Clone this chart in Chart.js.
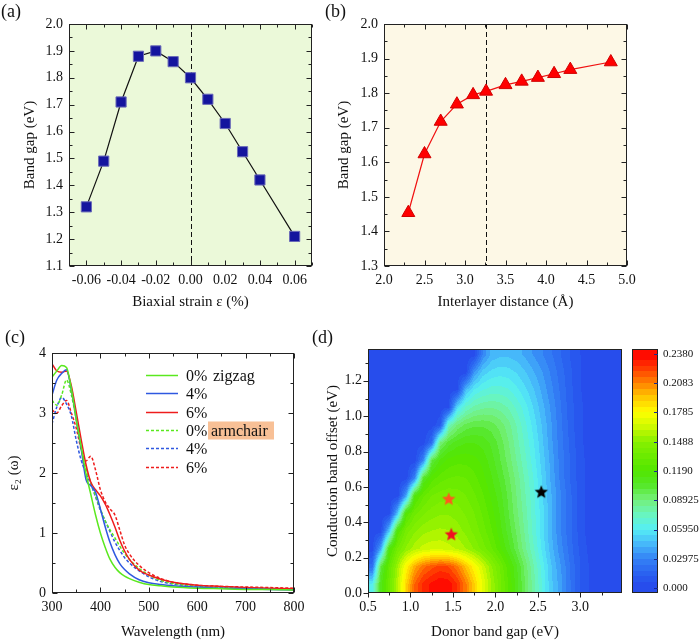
<!DOCTYPE html>
<html>
<head>
<meta charset="utf-8">
<script src="https://cdn.jsdelivr.net/npm/chart.js@4.4.0/dist/chart.umd.min.js"></script>
<style>
  body { margin: 0; background: #fff; }
  #lienzo { position: relative; width: 700px; height: 641px; overflow: hidden; }
  canvas { position: absolute; }
  .etiqueta { position: absolute; font-family: "Liberation Serif", serif; font-size: 18px; color: #111; }
</style>
</head>
<body>
<div id="lienzo">
  <canvas id="plotA" width="330" height="320" style="left:0;top:0"></canvas>
  <canvas id="plotB" width="380" height="320" style="left:320px;top:0"></canvas>
  <canvas id="plotC" width="330" height="321" style="left:0;top:320px"></canvas>
  <canvas id="plotD" width="310" height="321" style="left:320px;top:320px"></canvas>
  <canvas id="plotBarra" width="75" height="321" style="left:625px;top:320px"></canvas>
  <div class="etiqueta" style="left:1px;top:1px">(a)</div>
  <div class="etiqueta" style="left:325px;top:1px">(b)</div>
  <div class="etiqueta" style="left:5px;top:327px">(c)</div>
  <div class="etiqueta" style="left:312px;top:327px">(d)</div>
</div>
<script>
// (a) band gap vs biaxial strain
const strainA = [-0.06, -0.05, -0.04, -0.03, -0.02, -0.01, 0.00, 0.01, 0.02, 0.03, 0.04, 0.06];
const gapA = [1.32, 1.49, 1.71, 1.88, 1.90, 1.86, 1.80, 1.72, 1.63, 1.525, 1.42, 1.21];
const corteA = 0.0;
const ticksXA = [-0.06, -0.04, -0.02, 0.00, 0.02, 0.04, 0.06];
const ticksYA = [1.1, 1.2, 1.3, 1.4, 1.5, 1.6, 1.7, 1.8, 1.9, 2.0];

// (b) band gap vs interlayer distance
const distanciaB = [2.3, 2.5, 2.7, 2.9, 3.1, 3.26, 3.5, 3.7, 3.9, 4.1, 4.3, 4.8];
const gapB = [1.454, 1.624, 1.718, 1.768, 1.795, 1.805, 1.824, 1.834, 1.845, 1.856, 1.868, 1.89];
const corteB = 3.26;
const ticksXB = [2.0, 2.5, 3.0, 3.5, 4.0, 4.5, 5.0];
const ticksYB = [1.3, 1.4, 1.5, 1.6, 1.7, 1.8, 1.9, 2.0];

// (c) espectros eps2
const longitudOnda = [300, 310, 320, 330, 340, 350, 360, 370, 380, 390, 400, 410, 420, 430, 440, 450, 460, 480, 500, 525, 550, 600, 650, 700, 750, 800];
const zigzag0 = [3.60, 3.70, 3.79, 3.76, 3.40, 2.90, 2.45, 2.00, 1.65, 1.30, 1.00, 0.76, 0.56, 0.43, 0.34, 0.28, 0.24, 0.18, 0.14, 0.12, 0.10, 0.08, 0.07, 0.06, 0.06, 0.05];
const zigzag4 = [3.30, 3.55, 3.66, 3.72, 3.38, 2.90, 2.42, 1.90, 1.79, 1.68, 1.40, 1.10, 0.84, 0.64, 0.49, 0.39, 0.32, 0.22, 0.17, 0.14, 0.12, 0.10, 0.08, 0.07, 0.06, 0.05];
const zigzag6 = [3.82, 3.70, 3.68, 3.70, 3.45, 3.02, 2.57, 2.15, 1.85, 1.72, 1.62, 1.48, 1.30, 1.10, 0.88, 0.70, 0.56, 0.38, 0.30, 0.23, 0.18, 0.13, 0.11, 0.09, 0.08, 0.07];
const armchair0 = [3.21, 3.13, 3.30, 3.55, 3.30, 2.90, 2.42, 2.08, 1.85, 1.62, 1.40, 1.20, 1.05, 0.92, 0.78, 0.66, 0.56, 0.41, 0.30, 0.21, 0.16, 0.11, 0.09, 0.08, 0.07, 0.06];
const armchair4 = [2.82, 3.10, 3.26, 3.15, 2.95, 2.55, 2.22, 2.00, 1.82, 1.60, 1.38, 1.20, 1.02, 0.85, 0.71, 0.59, 0.50, 0.37, 0.27, 0.19, 0.15, 0.11, 0.09, 0.08, 0.07, 0.06];
const armchair6 = [3.05, 3.00, 3.12, 3.21, 3.00, 2.75, 2.40, 2.20, 2.28, 2.05, 1.72, 1.52, 1.40, 1.30, 1.05, 0.80, 0.65, 0.46, 0.34, 0.24, 0.18, 0.13, 0.11, 0.10, 0.09, 0.08];
const ticksXC = [300, 400, 500, 600, 700, 800];
const ticksYC = [0, 1, 2, 3, 4];

// (d) mapa de eficiencia: centros de celda y valores por fila (de abajo hacia arriba)
const gapDonor = [0.55, 0.65, 0.75, 0.85, 0.95, 1.05, 1.15, 1.25, 1.35, 1.45, 1.55, 1.65, 1.75, 1.85, 1.95, 2.05, 2.15, 2.25, 2.35, 2.45, 2.55, 2.65, 2.75, 2.85, 2.95, 3.05, 3.15, 3.25, 3.35, 3.45];
const offsetCB = [0.05, 0.15, 0.25, 0.35, 0.45, 0.55, 0.65, 0.75, 0.85, 0.95, 1.05, 1.15, 1.25, 1.35];
const mapaD = [
  [0.060,0.110,0.135,0.160,0.190,0.215,0.228,0.234,0.238,0.236,0.226,0.210,0.192,0.172,0.155,0.140,0.125,0.110,0.095,0.080,0.065,0.050,0.040,0.028,0.016,0.008,0.004,0.002,0.002,0.002],
  [0.020,0.100,0.130,0.155,0.180,0.200,0.212,0.218,0.222,0.220,0.210,0.195,0.180,0.165,0.150,0.137,0.122,0.108,0.093,0.078,0.063,0.049,0.038,0.027,0.016,0.008,0.004,0.002,0.002,0.002],
  [0.003,0.040,0.115,0.138,0.150,0.158,0.163,0.165,0.165,0.163,0.160,0.155,0.148,0.140,0.132,0.121,0.110,0.098,0.085,0.072,0.058,0.045,0.034,0.024,0.014,0.007,0.003,0.002,0.002,0.002],
  [0.002,0.003,0.050,0.120,0.140,0.148,0.153,0.155,0.156,0.155,0.152,0.147,0.141,0.134,0.126,0.116,0.105,0.094,0.082,0.069,0.056,0.043,0.032,0.022,0.013,0.006,0.003,0.002,0.002,0.002],
  [0.002,0.002,0.002,0.050,0.120,0.135,0.142,0.146,0.148,0.148,0.146,0.142,0.137,0.130,0.122,0.113,0.102,0.091,0.080,0.068,0.056,0.043,0.032,0.022,0.013,0.006,0.003,0.002,0.002,0.002],
  [0.002,0.002,0.002,0.002,0.040,0.115,0.130,0.137,0.140,0.141,0.140,0.137,0.132,0.126,0.118,0.110,0.100,0.089,0.078,0.067,0.055,0.043,0.032,0.022,0.013,0.006,0.003,0.002,0.002,0.002],
  [0.002,0.002,0.002,0.002,0.002,0.030,0.105,0.122,0.128,0.131,0.132,0.131,0.127,0.121,0.114,0.106,0.097,0.087,0.076,0.065,0.053,0.041,0.030,0.020,0.012,0.006,0.003,0.002,0.002,0.002],
  [0.002,0.002,0.002,0.002,0.002,0.002,0.030,0.100,0.115,0.121,0.123,0.123,0.121,0.117,0.110,0.102,0.093,0.083,0.073,0.062,0.051,0.040,0.029,0.020,0.012,0.006,0.003,0.002,0.002,0.002],
  [0.002,0.002,0.002,0.002,0.002,0.002,0.002,0.020,0.090,0.104,0.110,0.113,0.113,0.111,0.106,0.099,0.090,0.080,0.070,0.060,0.049,0.038,0.028,0.019,0.011,0.005,0.003,0.002,0.002,0.002],
  [0.002,0.002,0.002,0.002,0.002,0.002,0.002,0.002,0.010,0.075,0.090,0.097,0.100,0.100,0.098,0.093,0.086,0.077,0.067,0.057,0.047,0.037,0.027,0.018,0.010,0.005,0.003,0.002,0.002,0.002],
  [0.002,0.002,0.002,0.002,0.002,0.002,0.002,0.002,0.002,0.005,0.055,0.072,0.079,0.082,0.083,0.081,0.077,0.070,0.062,0.053,0.044,0.035,0.026,0.017,0.010,0.005,0.003,0.002,0.002,0.002],
  [0.002,0.002,0.002,0.002,0.002,0.002,0.002,0.002,0.002,0.002,0.004,0.045,0.060,0.065,0.068,0.068,0.066,0.061,0.055,0.048,0.040,0.032,0.024,0.016,0.009,0.004,0.002,0.002,0.002,0.002],
  [0.002,0.002,0.002,0.002,0.002,0.002,0.002,0.002,0.002,0.002,0.002,0.002,0.035,0.050,0.055,0.057,0.056,0.053,0.048,0.042,0.036,0.029,0.022,0.015,0.009,0.004,0.002,0.002,0.002,0.002],
  [0.002,0.002,0.002,0.002,0.002,0.002,0.002,0.002,0.002,0.002,0.002,0.002,0.002,0.030,0.043,0.046,0.046,0.044,0.040,0.035,0.030,0.025,0.019,0.013,0.008,0.004,0.002,0.002,0.002,0.002]
];
const estrellasX = [1.45, 1.48, 2.54];
const estrellasY = [0.53, 0.33, 0.57];
const ticksXD = [0.5, 1.0, 1.5, 2.0, 2.5, 3.0];
const ticksYD = [0.0, 0.2, 0.4, 0.6, 0.8, 1.0, 1.2];
const valoresBarra = [0, 0.02975, 0.0595, 0.08925, 0.119, 0.1488, 0.1785, 0.2083, 0.238];
const etiquetasBarra = ['0.000', '0.02975', '0.05950', '0.08925', '0.1190', '0.1488', '0.1785', '0.2083', '0.2380'];

Chart.defaults.font.family = '"Liberation Serif", "Times New Roman", serif';
Chart.defaults.color = '#111';

let puntos = (xs, ys) => xs.map((x, i) => ({x: x, y: ys[i]}));

// colores del mapa
const paradas = [
  [0.000, [38, 72, 235]], [0.015, [42, 98, 240]], [0.030, [52, 130, 245]], [0.045, [70, 185, 250]],
  [0.060, [85, 238, 245]], [0.075, [105, 245, 190]], [0.090, [115, 240, 120]], [0.105, [85, 232, 40]],
  [0.119, [82, 230, 0]], [0.149, [135, 240, 0]], [0.165, [210, 250, 0]], [0.1785, [255, 255, 0]],
  [0.195, [255, 195, 0]], [0.2083, [255, 130, 0]], [0.222, [255, 65, 0]], [0.238, [255, 0, 0]]
];
let colorDe = v => {
  const escalon = 0.238 / 40;
  v = Math.min(Math.max(v, 0), 0.2379);
  v = (Math.floor(v / escalon) + 0.5) * escalon;
  for (let k = 1; k < paradas.length; k++) {
    if (v <= paradas[k][0]) {
      const [v0, c0] = paradas[k - 1], [v1, c1] = paradas[k];
      const t = (v - v0) / (v1 - v0);
      return c0.map((c, n) => Math.round(c + (c1[n] - c) * t));
    }
  }
  return paradas[paradas.length - 1][1];
};

let valorD = (xv, yv) => {
  const nx = gapDonor.length, ny = offsetCB.length;
  const fx = Math.min(Math.max((xv - gapDonor[0]) / (gapDonor[1] - gapDonor[0]), 0), nx - 1);
  const fy = Math.min(Math.max((yv - offsetCB[0]) / (offsetCB[1] - offsetCB[0]), 0), ny - 1);
  const i0 = Math.min(Math.floor(fx), nx - 2), j0 = Math.min(Math.floor(fy), ny - 2);
  const tx = fx - i0, ty = fy - j0;
  const f0 = mapaD[j0], f1 = mapaD[j0 + 1];
  return (f0[i0] * (1 - tx) + f0[i0 + 1] * tx) * (1 - ty) + (f1[i0] * (1 - tx) + f1[i0 + 1] * tx) * ty;
};

// plugins
let fondo = color => ({
  id: 'fondo',
  beforeDraw(chart) {
    const {ctx, chartArea: a} = chart;
    ctx.save();
    ctx.fillStyle = color;
    ctx.fillRect(a.left, a.top, a.width, a.height);
    ctx.restore();
  }
});

let corte = valor => ({
  id: 'corte',
  beforeDatasetsDraw(chart) {
    const {ctx, chartArea: a, scales: {x}} = chart;
    const px = Math.round(x.getPixelForValue(valor)) + 0.5;
    ctx.save();
    ctx.strokeStyle = '#111';
    ctx.lineWidth = 1;
    ctx.setLineDash([5, 3]);
    ctx.beginPath();
    ctx.moveTo(px, a.top);
    ctx.lineTo(px, a.bottom);
    ctx.stroke();
    ctx.restore();
  }
});

let marco = cfg => ({
  id: 'marco',
  afterDraw(chart) {
    const {ctx, chartArea: a, scales: {x, y}} = chart;
    const L = Math.round(a.left) + 0.5, R = Math.round(a.right) - 0.5;
    const T = Math.round(a.top) + 0.5, B = Math.round(a.bottom) - 0.5;
    const dir = cfg.fuera ? -1 : 1;
    const marcas = (esc, menor, mayor) => {
      const lista = [];
      const ini = Math.ceil(esc.min / menor - 1e-6);
      const fin = Math.floor(esc.max / menor + 1e-6);
      for (let k = ini; k <= fin; k++) {
        const v = k * menor;
        const q = v / mayor;
        lista.push({p: Math.round(esc.getPixelForValue(v)) + 0.5, largo: Math.abs(q - Math.round(q)) < 1e-6 ? 5 : 3});
      }
      return lista;
    };
    ctx.save();
    ctx.strokeStyle = '#222';
    ctx.lineWidth = 1;
    ctx.strokeRect(L, T, R - L, B - T);
    ctx.beginPath();
    marcas(x, cfg.xMenor, cfg.xMayor).forEach(m => {
      ctx.moveTo(m.p, B); ctx.lineTo(m.p, B - dir * m.largo);
      if (!cfg.fuera) { ctx.moveTo(m.p, T); ctx.lineTo(m.p, T + m.largo); }
    });
    marcas(y, cfg.yMenor, cfg.yMayor).forEach(m => {
      ctx.moveTo(L, m.p); ctx.lineTo(L + dir * m.largo, m.p);
      if (!cfg.fuera) { ctx.moveTo(R, m.p); ctx.lineTo(R - m.largo, m.p); }
    });
    ctx.stroke();
    ctx.restore();
  }
});

let ejeX = (min, max, valores, dec, titulo, alto, padTitulo) => ({
  type: 'linear', min: min, max: max,
  afterBuildTicks: s => { s.ticks = valores.map(v => ({value: v})); },
  afterFit: s => { s.height = alto; },
  grid: {display: false, drawTicks: false}, border: {display: false},
  ticks: {padding: 6, font: {size: 14}, maxRotation: 0, callback: v => Number(v).toFixed(dec)},
  title: {display: true, text: titulo, font: {size: 15}, padding: {top: 0, bottom: padTitulo}}
});
let ejeY = (min, max, valores, dec, titulo, ancho, padTitulo) => ({
  type: 'linear', min: min, max: max,
  afterBuildTicks: s => { s.ticks = valores.map(v => ({value: v})); },
  afterFit: s => { s.width = ancho; },
  grid: {display: false, drawTicks: false}, border: {display: false},
  ticks: {padding: 6, font: {size: 14}, callback: v => Number(v).toFixed(dec)},
  title: {display: true, text: titulo, font: {size: 15}, padding: {top: padTitulo, bottom: 0}}
});

const sinLeyenda = {legend: {display: false}, tooltip: {enabled: false}};

// (a)
new Chart(document.getElementById('plotA'), {
  type: 'line',
  data: {datasets: [{
    data: puntos(strainA, gapA),
    borderColor: '#111', borderWidth: 1.2,
    pointStyle: 'rect', pointRadius: 7.2,
    pointBackgroundColor: '#14149e', pointBorderColor: '#6a6ab8', pointBorderWidth: 1
  }]},
  options: {
    responsive: false, animation: false,
    layout: {padding: {left: 0, top: 24, right: 18, bottom: 0}},
    plugins: sinLeyenda,
    scales: {
      x: ejeX(-0.07, 0.07, ticksXA, 2, 'Biaxial strain ε (%)', 54, 9),
      y: ejeY(1.1, 2.0, ticksYA, 1, 'Band gap (eV)', 69, 21)
    }
  },
  plugins: [fondo('#ebf9d9'), corte(corteA), marco({xMenor: 0.01, xMayor: 0.02, yMenor: 0.05, yMayor: 0.1})]
});

// (b)
new Chart(document.getElementById('plotB'), {
  type: 'line',
  data: {datasets: [{
    data: puntos(distanciaB, gapB),
    borderColor: '#f01010', borderWidth: 1.2,
    pointStyle: 'triangle', pointRadius: 7.5,
    pointBackgroundColor: '#ff0000', pointBorderColor: '#d00000', pointBorderWidth: 1
  }]},
  options: {
    responsive: false, animation: false,
    layout: {padding: {left: 0, top: 24, right: 73, bottom: 0}},
    plugins: sinLeyenda,
    scales: {
      x: ejeX(2.0, 5.0, ticksXB, 1, 'Interlayer distance (Å)', 54, 9),
      y: ejeY(1.3, 2.0, ticksYB, 1, 'Band gap (eV)', 64, 15)
    }
  },
  plugins: [fondo('#fdf8e6'), corte(corteB), marco({xMenor: 0.25, xMayor: 0.5, yMenor: 0.05, yMayor: 0.1})]
});

// (c)
const seriesC = [
  {label: '0%', datos: zigzag0, color: '#5ae81e', rayas: []},
  {label: '4%', datos: zigzag4, color: '#2f58e0', rayas: []},
  {label: '6%', datos: zigzag6, color: '#ee1c1c', rayas: []},
  {label: '0%', datos: armchair0, color: '#5ae81e', rayas: [3, 2]},
  {label: '4%', datos: armchair4, color: '#2f58e0', rayas: [3, 2]},
  {label: '6%', datos: armchair6, color: '#ee1c1c', rayas: [3, 2]}
];
let leyendaC = {
  id: 'leyendaC',
  afterDraw(chart) {
    const {ctx, chartArea: a} = chart;
    ctx.save();
    ctx.font = '16px "Liberation Serif", serif';
    ctx.textBaseline = 'middle';
    seriesC.forEach((s, i) => {
      const yy = Math.round(a.top + 22 + i * 18.3) + 0.5;
      const x0 = a.left + 94;
      ctx.strokeStyle = s.color;
      ctx.lineWidth = 1.5;
      ctx.setLineDash(s.rayas);
      ctx.beginPath(); ctx.moveTo(x0, yy); ctx.lineTo(x0 + 32, yy); ctx.stroke();
      ctx.setLineDash([]);
      ctx.fillStyle = '#111';
      ctx.fillText(s.label, x0 + 40, yy + 1);
      if (i === 0) ctx.fillText('zigzag', x0 + 67, yy + 1);
      if (i === 3) {
        ctx.fillStyle = '#f8c096';
        ctx.fillRect(x0 + 62, yy - 9, 66, 18);
        ctx.fillStyle = '#111';
        ctx.fillText('armchair', x0 + 65, yy + 1);
      }
    });
    ctx.restore();
  }
};
new Chart(document.getElementById('plotC'), {
  type: 'line',
  data: {datasets: seriesC.map(s => ({
    data: puntos(longitudOnda, s.datos),
    borderColor: s.color, borderWidth: 1.5, borderDash: s.rayas,
    pointRadius: 0, tension: 0.3, cubicInterpolationMode: 'monotone'
  }))},
  options: {
    responsive: false, animation: false,
    layout: {padding: {left: 0, top: 33, right: 36, bottom: 0}},
    plugins: sinLeyenda,
    scales: {
      x: ejeX(300, 800, ticksXC, 0, 'Wavelength (nm)', 48, 0),
      y: ejeY(0, 4, ticksYC, 0, 'ε₂ (ω)', 52, 5)
    }
  },
  plugins: [marco({xMenor: 50, xMayor: 100, yMenor: 0.5, yMayor: 1}), leyendaC]
});

// (d)
let estrella = (color, r) => {
  const c = document.createElement('canvas');
  c.width = c.height = 2 * r + 2;
  const g = c.getContext('2d');
  g.beginPath();
  for (let k = 0; k < 10; k++) {
    const rad = k % 2 ? r * 0.45 : r;
    const ang = -Math.PI / 2 + k * Math.PI / 5;
    g.lineTo(r + 1 + rad * Math.cos(ang), r + 1 + rad * Math.sin(ang));
  }
  g.closePath();
  g.fillStyle = color;
  g.fill();
  return c;
};
let mapaCalor = {
  id: 'mapaCalor',
  beforeDatasetsDraw(chart) {
    const {ctx, chartArea: a, scales: {x, y}} = chart;
    const L = Math.round(a.left), T = Math.round(a.top);
    const W = Math.round(a.right) - L, H = Math.round(a.bottom) - T;
    const img = ctx.createImageData(W, H);
    for (let py = 0; py < H; py++) {
      const yv = y.getValueForPixel(T + py + 0.5);
      for (let px = 0; px < W; px++) {
        const xv = x.getValueForPixel(L + px + 0.5);
        const c = colorDe(valorD(xv, yv));
        const n = (py * W + px) * 4;
        img.data[n] = c[0]; img.data[n + 1] = c[1]; img.data[n + 2] = c[2]; img.data[n + 3] = 255;
      }
    }
    ctx.putImageData(img, L, T);
  }
};
new Chart(document.getElementById('plotD'), {
  type: 'scatter',
  data: {datasets: [{
    data: puntos(estrellasX, estrellasY),
    pointStyle: [estrella('#ff5a1e', 7), estrella('#f01020', 7), estrella('#000000', 7)],
    pointRadius: 7
  }]},
  options: {
    responsive: false, animation: false,
    layout: {padding: {left: 0, top: 29, right: 7, bottom: 0}},
    plugins: sinLeyenda,
    scales: {
      x: ejeX(0.5, 3.49, ticksXD, 1, 'Donor band gap (eV)', 48, 0),
      y: ejeY(0, 1.38, ticksYD, 1, 'Conduction band offset (eV)', 48, 4)
    }
  },
  plugins: [mapaCalor, marco({fuera: true, xMenor: 0.25, xMayor: 0.5, yMenor: 0.1, yMayor: 0.2})]
});

// barra de color
let barraColor = {
  id: 'barraColor',
  beforeDatasetsDraw(chart) {
    const {ctx, chartArea: a, scales: {y}} = chart;
    const L = Math.round(a.left), R = Math.round(a.right);
    const T = Math.round(a.top), B = Math.round(a.bottom);
    ctx.save();
    for (let py = T; py < B; py++) {
      const c = colorDe(y.getValueForPixel(py + 0.5));
      ctx.fillStyle = 'rgb(' + c.join(',') + ')';
      ctx.fillRect(L, py, R - L, 1);
    }
    ctx.strokeStyle = '#222';
    ctx.lineWidth = 1;
    ctx.strokeRect(L + 0.5, T + 0.5, R - L - 1, B - T - 1);
    ctx.strokeStyle = '#1a2a90';
    ctx.beginPath();
    valoresBarra.forEach(v => {
      const p = Math.round(y.getPixelForValue(v)) + 0.5;
      ctx.moveTo(R, p); ctx.lineTo(R - 4, p);
    });
    ctx.stroke();
    ctx.restore();
  }
};
new Chart(document.getElementById('plotBarra'), {
  type: 'scatter',
  data: {datasets: [{data: []}]},
  options: {
    responsive: false, animation: false,
    layout: {padding: {left: 7, top: 29, right: 0, bottom: 48}},
    plugins: sinLeyenda,
    scales: {
      x: {type: 'linear', display: false, min: 0, max: 1},
      y: {
        type: 'linear', position: 'right', min: -0.005, max: 0.243,
        afterBuildTicks: s => { s.ticks = valoresBarra.map(v => ({value: v})); },
        afterFit: s => { s.width = 42; },
        grid: {display: false, drawTicks: false}, border: {display: false},
        ticks: {padding: 5, font: {size: 11}, callback: (v, i) => etiquetasBarra[i]}
      }
    }
  },
  plugins: [barraColor]
});
</script>
</body>
</html>
